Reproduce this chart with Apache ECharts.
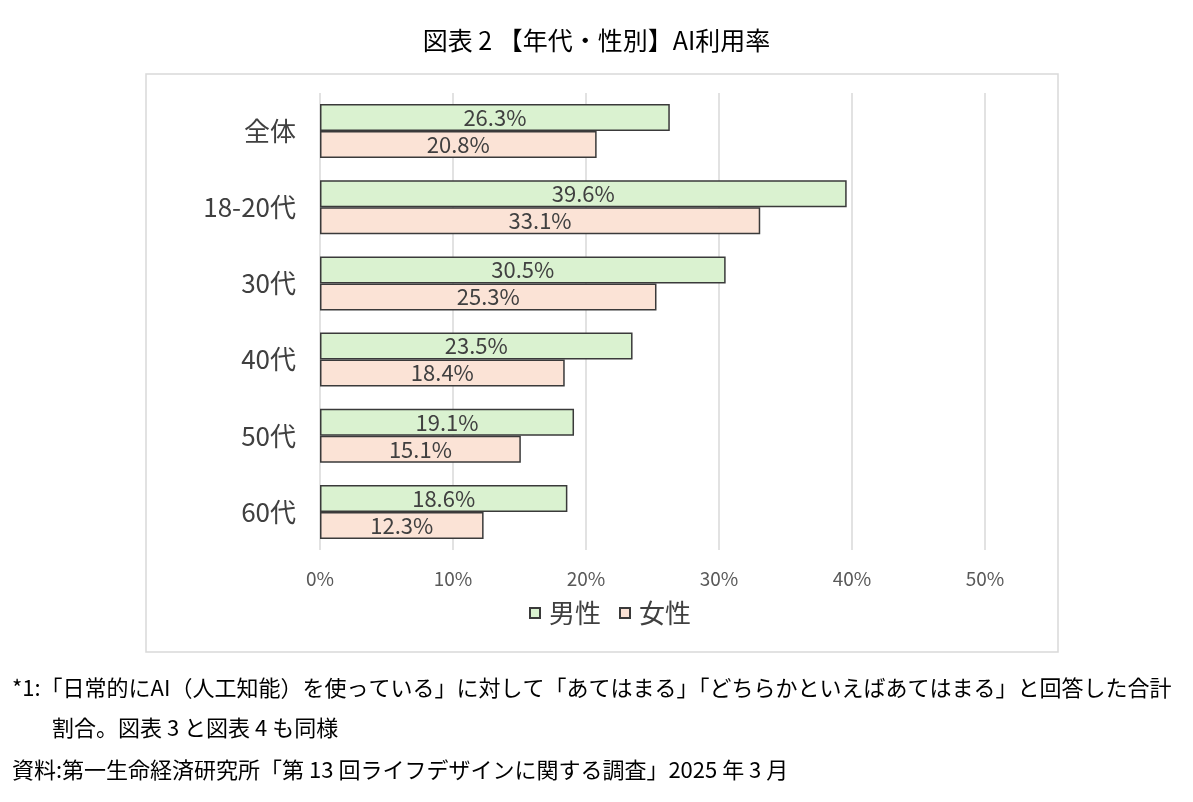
<!DOCTYPE html>
<html>
<head>
<meta charset="utf-8">
<script src="https://cdn.jsdelivr.net/npm/echarts@6/dist/echarts.min.js"></script>
<style>
  html, body { margin: 0; padding: 0; background: #fff; }
  #chart { width: 1193px; height: 802px; }
</style>
</head>
<body>
<div id="chart"></div>
<script>
// 年代・性別 AI利用率 (%)
const categories = ['全体', '18-20代', '30代', '40代', '50代', '60代'];
const male = [26.3, 39.6, 30.5, 23.5, 19.1, 18.6];
const female = [20.8, 33.1, 25.3, 18.4, 15.1, 12.3];
const seriesNames = ['男性', '女性'];
const xTicks = [0, 10, 20, 30, 40, 50];

const titleText = '図表 2 【年代・性別】AI利用率';
const notes = [
    '*1:「日常的にAI（人工知能）を使っている」に対して「あてはまる」「どちらかといえばあてはまる」と回答した合計',
    '割合。図表 3 と図表 4 も同様',
    '資料:第一生命経済研究所「第 13 回ライフデザインに関する調査」2025 年 3 月'
];

const fontFam = "'Noto Sans CJK JP', sans-serif";

const chart = echarts.init(document.getElementById('chart'), null, { renderer: 'canvas' });

const labelOpt = {
    show: true,
    position: 'inside',
    color: '#404040',
    fontSize: 22,
    fontFamily: fontFam,
    formatter: p => p.value.toFixed(1) + '%'
};

chart.setOption({
    animation: false,
    backgroundColor: '#fff',
    title: {
        text: titleText,
        left: 'center',
        top: 23,
        textStyle: { fontSize: 25, fontWeight: 'normal', color: '#000', fontFamily: fontFam }
    },
    legend: {
        data: seriesNames,
        top: 595,
        left: 524,
        icon: 'rect',
        itemWidth: 10,
        itemHeight: 10,
        itemGap: 18,
        textStyle: { fontSize: 26, color: '#404040', fontFamily: fontFam, padding: [0, 0, 0, 4] }
    },
    grid: { left: 320, right: 208, top: 93, bottom: 252, containLabel: false },
    xAxis: {
        type: 'value',
        min: 0,
        max: 50,
        interval: 10,
        axisLine: { show: false },
        axisTick: { show: false },
        splitLine: { show: true, lineStyle: { color: '#d9d9d9', width: 1.5 } },
        axisLabel: {
            margin: 19,
            color: '#595959',
            fontSize: 19,
            fontFamily: fontFam,
            formatter: v => (xTicks.includes(v) ? v + '%' : '')
        }
    },
    yAxis: {
        type: 'category',
        data: categories,
        inverse: true,
        axisLine: { show: false },
        axisTick: { show: false },
        axisLabel: { margin: 24, color: '#404040', fontSize: 26, fontFamily: fontFam }
    },
    series: [
        {
            name: seriesNames[0],
            type: 'bar',
            data: male,
            barGap: '0%',
            barCategoryGap: '29%',
            itemStyle: { color: '#daf2d0', borderColor: '#3a3a3a', borderWidth: 1.5 },
            label: labelOpt
        },
        {
            name: seriesNames[1],
            type: 'bar',
            data: female,
            barGap: '0%',
            barCategoryGap: '29%',
            itemStyle: { color: '#fbe3d6', borderColor: '#3a3a3a', borderWidth: 1.5 },
            label: labelOpt
        }
    ],
    graphic: [
        {
            type: 'rect',
            shape: { x: 146, y: 74, width: 912, height: 578 },
            style: { fill: 'none', stroke: '#d9d9d9', lineWidth: 1.5 },
            z: -1
        },
        {
            type: 'text', left: 12, top: 677,
            style: { text: notes[0], fill: '#000', font: '22px ' + fontFam }
        },
        {
            type: 'text', left: 52, top: 717,
            style: { text: notes[1], fill: '#000', font: '22px ' + fontFam }
        },
        {
            type: 'text', left: 12, top: 759,
            style: { text: notes[2], fill: '#000', font: '22px ' + fontFam }
        }
    ]
});
</script>
</body>
</html>
